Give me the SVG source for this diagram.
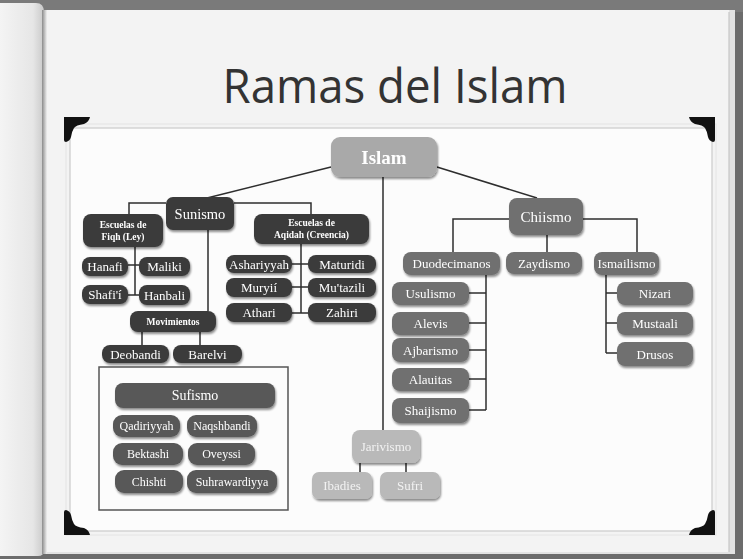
<svg xmlns="http://www.w3.org/2000/svg" width="743" height="559" viewBox="0 0 743 559">
<defs>
<linearGradient id="strip" x1="0" y1="0" x2="1" y2="0">
<stop offset="0" stop-color="#f4f4f4"/>
<stop offset="0.75" stop-color="#e6e6e6"/>
<stop offset="1" stop-color="#c9c9c9"/>
</linearGradient>
<linearGradient id="spine" x1="0" y1="0" x2="1" y2="0">
<stop offset="0" stop-color="#8a8a8a"/>
<stop offset="1" stop-color="#f0f0f0"/>
</linearGradient>
<filter id="sh" x="-10%" y="-10%" width="130%" height="140%">
<feGaussianBlur in="SourceAlpha" stdDeviation="1.2"/>
<feOffset dx="0.5" dy="1.5" result="b"/>
<feComponentTransfer><feFuncA type="linear" slope="0.45"/></feComponentTransfer>
<feMerge><feMergeNode/><feMergeNode in="SourceGraphic"/></feMerge>
</filter>
<path id="corner" d="M0,0 L26,0 Q25,5 20,7 Q12,8 10,11 Q8,14 7,20 Q6,24 2,25 Q0,25 0,23 Z"/>
</defs>
<style>
.t{font-family:"Liberation Serif","DejaVu Serif",serif;fill:#fff;text-anchor:middle;dominant-baseline:central}
.d rect{fill:#3b3b3b}
.s rect{fill:#585858}
.c rect{fill:#6f6f6f}
.i rect{fill:#a9a9a9}
.j rect{fill:#b9b9b9}
.j text{fill:#f2f2f2}
.n{filter:url(#sh)}
.b{font-weight:bold;font-size:9.5px}
.l{font-size:13px}
.m{font-size:12px}
#conn line,#conn polyline{stroke:#2e2e2e;stroke-width:1.5;fill:none}
</style>
<!-- book background -->
<rect x="0" y="0" width="743" height="559" fill="#6c6c6c"/>
<rect x="0" y="0" width="743" height="12" fill="#7a7a7a"/>
<path d="M0,3 L36,3 Q44,3 44,12 L44,550 Q44,556 38,556 L0,556 Z" fill="url(#strip)"/>
<rect x="42" y="10" width="5" height="544" fill="url(#spine)"/>
<rect x="47" y="10" width="688" height="544" fill="#e2e2e2"/>
<rect x="47" y="10" width="682" height="542" fill="#f3f3f3"/>
<line x1="729" y1="12" x2="729" y2="552" stroke="#bdbdbd" stroke-width="1"/>
<!-- frame -->
<rect x="70" y="128" width="642" height="403" fill="#fcfcfc" stroke="#d4d4d4" stroke-width="1.5"/>
<rect x="66" y="124" width="650" height="411" fill="none" stroke="#e4e4e4" stroke-width="1"/>
<g fill="#111">
<use href="#corner" transform="translate(64,117)"/>
<use href="#corner" transform="translate(715,117) scale(-1,1)"/>
<use href="#corner" transform="translate(64,535) scale(1,-1)"/>
<use href="#corner" transform="translate(715,535) scale(-1,-1)"/>
</g>
<text x="395" y="103" font-family="'Open Sans','DejaVu Sans',sans-serif" font-weight="400" font-size="47" fill="#333" text-anchor="middle" textLength="345" lengthAdjust="spacingAndGlyphs">Ramas del Islam</text>
<!-- sufismo box -->
<rect id="sufismo-box" x="99" y="367" width="189" height="143" fill="none" stroke="#555" stroke-width="1.5"/>
<g id="conn">
<line x1="331" y1="167" x2="207" y2="198"/>
<line x1="437" y1="167" x2="537" y2="198"/>
<line x1="383" y1="177" x2="383" y2="430"/>
<polyline points="166,203 129,203 129,214"/>
<polyline points="234,203 311,203 311,214"/>
<line x1="208" y1="230" x2="208" y2="311"/>
<line x1="135" y1="247" x2="135" y2="295"/>
<line x1="128" y1="265" x2="139" y2="265"/>
<line x1="128" y1="295" x2="139" y2="295"/>
<line x1="301" y1="244" x2="301" y2="313"/>
<line x1="292" y1="264" x2="308" y2="264"/>
<line x1="292" y1="287" x2="308" y2="287"/>
<line x1="292" y1="313" x2="308" y2="313"/>
<line x1="142" y1="332" x2="142" y2="345"/>
<line x1="200" y1="332" x2="200" y2="345"/>
<polyline points="509,219 453,219 453,252"/>
<polyline points="583,219 637,219 637,252"/>
<line x1="547" y1="235" x2="547" y2="252"/>
<line x1="486" y1="275" x2="486" y2="410"/>
<line x1="469" y1="293" x2="486" y2="293"/>
<line x1="469" y1="323" x2="486" y2="323"/>
<line x1="469" y1="350" x2="486" y2="350"/>
<line x1="469" y1="379" x2="486" y2="379"/>
<line x1="469" y1="410" x2="486" y2="410"/>
<line x1="606" y1="275" x2="606" y2="353"/>
<line x1="606" y1="293" x2="617" y2="293"/>
<line x1="606" y1="323" x2="617" y2="323"/>
<line x1="606" y1="353" x2="617" y2="353"/>
<line x1="360" y1="463" x2="360" y2="472"/>
<line x1="406" y1="463" x2="406" y2="472"/>
</g>
<g id="islam" class="n i"><rect x="331" y="137" width="106" height="40" rx="9"/><text class="t" x="384" y="157" font-size="19" font-weight="bold">Islam</text></g>
<g id="sunismo" class="n d"><rect x="166" y="197" width="68" height="33" rx="7"/><text class="t" x="200" y="213.5" font-size="14.5">Sunismo</text></g>
<g id="fiqh" class="n d"><rect x="83" y="214" width="80" height="33" rx="8"/><text class="t b" x="123" y="224.5">Escuelas de</text><text class="t b" x="123" y="237">Fiqh (Ley)</text></g>
<g id="aqidah" class="n d"><rect x="254" y="214" width="115" height="30" rx="8"/><text class="t b" x="311.5" y="223">Escuelas de</text><text class="t b" x="311.5" y="235">Aqidah (Creencia)</text></g>
<g id="hanafi" class="n d"><rect x="82" y="257" width="46" height="19" rx="8"/><text class="t l" x="105" y="266.5">Hanafi</text></g>
<g id="maliki" class="n d"><rect x="139" y="257" width="51" height="19" rx="8"/><text class="t l" x="164.5" y="266.5">Maliki</text></g>
<g id="shafii" class="n d"><rect x="82" y="285" width="46" height="19" rx="8"/><text class="t l" x="105" y="294.5">Shafi'í</text></g>
<g id="hanbali" class="n d"><rect x="139" y="285" width="51" height="20" rx="8"/><text class="t l" x="164.5" y="295">Hanbali</text></g>
<g id="ashariyyah" class="n d"><rect x="226" y="255" width="66" height="18" rx="8"/><text class="t l" x="259" y="264">Ashariyyah</text></g>
<g id="maturidi" class="n d"><rect x="308" y="255" width="68" height="18" rx="8"/><text class="t l" x="342" y="264">Maturidi</text></g>
<g id="muryii" class="n d"><rect x="226" y="278" width="66" height="19" rx="8"/><text class="t l" x="259" y="287.5">Muryií</text></g>
<g id="mutazili" class="n d"><rect x="308" y="278" width="68" height="19" rx="8"/><text class="t l" x="342" y="287.5">Mu'tazili</text></g>
<g id="athari" class="n d"><rect x="226" y="303" width="66" height="19" rx="8"/><text class="t l" x="259" y="312.5">Athari</text></g>
<g id="zahiri" class="n d"><rect x="308" y="303" width="68" height="19" rx="8"/><text class="t l" x="342" y="312.5">Zahiri</text></g>
<g id="movimientos" class="n d"><rect x="130" y="311" width="86" height="21" rx="8"/><text class="t b" x="173" y="321.5">Movimientos</text></g>
<g id="deobandi" class="n d"><rect x="102" y="345" width="67" height="18" rx="8"/><text class="t l" x="135.5" y="354">Deobandi</text></g>
<g id="barelvi" class="n d"><rect x="173" y="345" width="69" height="18" rx="8"/><text class="t l" x="207.5" y="354">Barelvi</text></g>
<g id="sufismo" class="n s"><rect x="115" y="383" width="160" height="25" rx="8"/><text class="t" x="195" y="395.5" font-size="14">Sufismo</text></g>
<g id="qadiriyyah" class="n s"><rect x="113" y="415" width="67" height="22" rx="9"/><text class="t m" x="146.5" y="426">Qadiriyyah</text></g>
<g id="naqshbandi" class="n s"><rect x="187" y="415" width="70" height="22" rx="9"/><text class="t m" x="222" y="426">Naqshbandi</text></g>
<g id="bektashi" class="n s"><rect x="113" y="443" width="70" height="22" rx="9"/><text class="t m" x="148" y="454">Bektashi</text></g>
<g id="oveyssi" class="n s"><rect x="188" y="443" width="67" height="22" rx="9"/><text class="t m" x="221.5" y="454">Oveyssi</text></g>
<g id="chishti" class="n s"><rect x="115" y="470" width="68" height="23" rx="9"/><text class="t m" x="149" y="481.5">Chishti</text></g>
<g id="suhrawardiyya" class="n s"><rect x="187" y="470" width="90" height="23" rx="9"/><text class="t m" x="232" y="481.5">Suhrawardiyya</text></g>
<g id="chiismo" class="n c"><rect x="509" y="198" width="74" height="37" rx="8"/><text class="t" x="546" y="216.5" font-size="15">Chiismo</text></g>
<g id="duodecimanos" class="n c"><rect x="403" y="252" width="97" height="23" rx="8"/><text class="t l" x="451.5" y="263.5">Duodecimanos</text></g>
<g id="zaydismo" class="n c"><rect x="506" y="252" width="76" height="22" rx="8"/><text class="t l" x="544" y="263">Zaydismo</text></g>
<g id="ismailismo" class="n c"><rect x="594" y="252" width="65" height="23" rx="8"/><text class="t l" x="626.5" y="263.5">Ismailismo</text></g>
<g id="usulismo" class="n c"><rect x="392" y="282" width="77" height="23" rx="8"/><text class="t l" x="430.5" y="293.5">Usulismo</text></g>
<g id="alevis" class="n c"><rect x="392" y="312" width="77" height="23" rx="8"/><text class="t l" x="430.5" y="323.5">Alevis</text></g>
<g id="ajbarismo" class="n c"><rect x="392" y="338" width="77" height="24" rx="8"/><text class="t l" x="430.5" y="350">Ajbarismo</text></g>
<g id="alauitas" class="n c"><rect x="392" y="368" width="77" height="23" rx="8"/><text class="t l" x="430.5" y="379.5">Alauitas</text></g>
<g id="shaijismo" class="n c"><rect x="392" y="398" width="77" height="25" rx="8"/><text class="t l" x="430.5" y="410.5">Shaijismo</text></g>
<g id="nizari" class="n c"><rect x="617" y="282" width="76" height="23" rx="8"/><text class="t l" x="655" y="293.5">Nizari</text></g>
<g id="mustaali" class="n c"><rect x="617" y="312" width="76" height="23" rx="8"/><text class="t l" x="655" y="323.5">Mustaali</text></g>
<g id="drusos" class="n c"><rect x="617" y="342" width="76" height="24" rx="8"/><text class="t l" x="655" y="354">Drusos</text></g>
<g id="jarivismo" class="n j"><rect x="352" y="430" width="68" height="33" rx="8"/><text class="t l" x="386" y="446.5">Jarivismo</text></g>
<g id="ibadies" class="n j"><rect x="312" y="472" width="60" height="27" rx="7"/><text class="t l" x="342" y="485.5">Ibadies</text></g>
<g id="sufri" class="n j"><rect x="380" y="472" width="60" height="27" rx="7"/><text class="t l" x="410" y="485.5">Sufri</text></g>
</svg>
